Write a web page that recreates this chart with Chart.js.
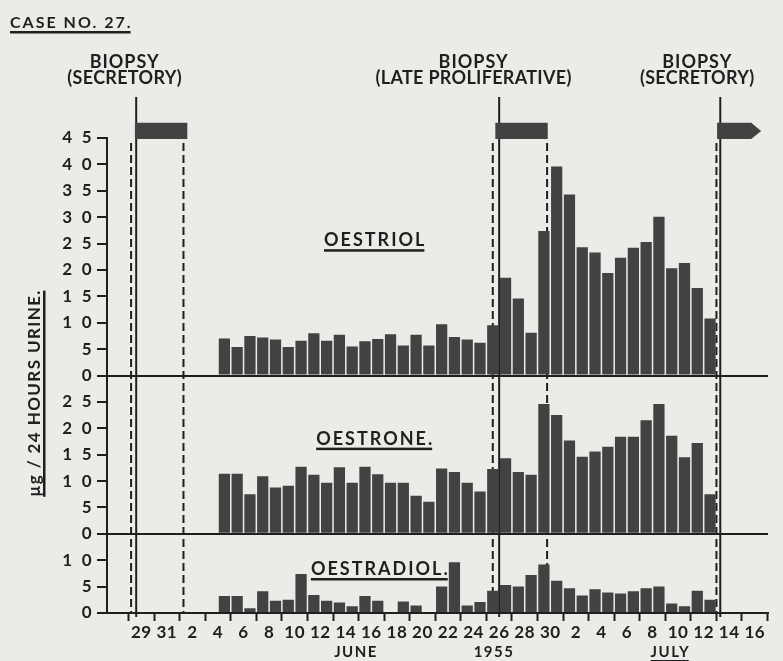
<!DOCTYPE html>
<html lang="en">

<head>
    <meta charset="UTF-8">
    <meta name="viewport" content="width=device-width, initial-scale=1.0">
    <script src="https://cdn.jsdelivr.net/npm/chart.js@4.4.1/dist/chart.umd.min.js"></script>
    <title>Case No. 27</title>
    <style>
        html, body { margin: 0; padding: 0; background: #ecebe8; }
        #contenitore { position: relative; width: 783px; height: 661px; }
    </style>
</head>

<body>
    <div id="contenitore"><canvas id="grafico1"></canvas></div>
</body>

<script>
    // days counted from 29 May 1955 (day 0); the bar of day d fills [d, d+1]
    var firstBarDay = 6;   // 4 June

    // µg / 24 hours urine, one value a day from 4 June to 12 July (null = not measured)
    var oestriol = [7.0, 5.4, 7.5, 7.2, 6.8, 5.4, 6.6, 8.0, 6.6, 7.7, 5.5, 6.5, 6.9, 7.8, 5.7, 7.7, 5.7, 9.7, 7.3, 6.8,
                    6.2, 9.5, 18.5, 14.6, 8.1, 27.4, 39.6, 34.3, 24.3, 23.3, 19.4, 22.3, 24.2, 25.3, 30.1, 20.3, 21.3, 16.6, 10.8];
    var oestrone = [11.4, 11.4, 7.5, 10.9, 8.8, 9.1, 12.7, 11.2, 9.7, 12.6, 9.7, 12.7, 11.3, 9.7, 9.7, 7.2, 6.1, 12.4, 11.7, 9.7,
                    8.0, 12.3, 14.3, 11.7, 11.2, 24.6, 22.5, 17.7, 14.6, 15.6, 16.5, 18.4, 18.4, 21.5, 24.6, 18.6, 14.5, 17.2, 7.5];
    var oestradiol = [3.2, 3.2, 0.9, 4.1, 2.3, 2.5, 7.4, 3.4, 2.3, 2.0, 1.3, 3.2, 2.3, null, 2.2, 1.4, null, 5.0, 9.6, 1.4,
                      2.1, 4.2, 5.3, 5.0, 7.2, 9.2, 6.1, 4.7, 3.3, 4.5, 3.9, 3.7, 4.1, 4.7, 5.0, 1.8, 1.3, 4.2, 2.5];

    // x axis ticks (day number -> day of month)
    var tickDays = [0, 2, 4, 6, 8, 10, 12, 14, 16, 18, 20, 22, 24, 26, 28, 30, 32, 34, 36, 38, 40, 42, 44, 46, 48];
    var tickLabels = ['29', '31', '2', '4', '6', '8', '10', '12', '14', '16', '18', '20', '22', '24', '26', '28', '30',
                      '2', '4', '6', '8', '10', '12', '14', '16'];
    var monthLabels = ['JUNE', '1955', 'JULY'];
    var monthDays = [16.8, 27.6, 41.4];

    // biopsies: solid line, label, dark band and dashed limits
    var biopsyDays = [-0.4, 28, 45.3];
    var biopsyLabelDays = [-1.3, 26.0, 43.5];
    var biopsyTypes = ['(SECRETORY)', '(LATE PROLIFERATIVE)', '(SECRETORY)'];
    var flowSpans = [[-0.5, 3.6], [27.7, 31.8], [45.05, 48.5]];
    var dashedDays = [-0.8, 3.3, 27.5, 31.75, 45.0];

    var ink = '#1f1f1f';
    var barColour = '#424242';
    var paper = '#ecebe8';
    var font = 'Lato, "DejaVu Sans", sans-serif';

    function punti(valori) {
        return valori.map(function(v, i) {
            return {x: firstBarDay + i + 0.5, y: v};
        });
    }

    function serie(label, valori, asse) {
        return {
            label: label,
            data: punti(valori),
            yAxisID: asse,
            backgroundColor: barColour,
            borderWidth: 0,
            barPercentage: 0.88,
            categoryPercentage: 1,
            grouped: false
        };
    }

    function asseY(max, peso, mostraMax) {
        return {
            type: 'linear',
            position: 'left',
            stack: 'pannelli',
            stackWeight: peso,
            min: 0,
            max: max,
            afterFit: function(s) { s.width = 107; },
            ticks: {
                stepSize: 5,
                autoSkip: false,
                padding: 5,
                color: ink,
                font: {family: font, size: 17, weight: 'bold'},
                callback: function(v) {
                    if (v === max && !mostraMax) return '';
                    return String(v).split('').join('\u2002');
                }
            },
            grid: {
                color: function(c) { return c.tick && c.tick.value === 0 ? ink : 'transparent'; },
                lineWidth: 2,
                tickColor: ink,
                tickWidth: 2,
                tickLength: 10
            },
            border: {color: ink, width: 2}
        };
    }

    function scritta(ctx, testo, x, y, size, spazio, sottolinea) {
        ctx.save();
        ctx.font = 'bold ' + size + 'px ' + font;
        ctx.letterSpacing = spazio + 'px';
        ctx.fillStyle = ink;
        ctx.textAlign = 'center';
        ctx.textBaseline = 'alphabetic';
        ctx.fillText(testo, x, y);
        if (sottolinea) {
            var w = ctx.measureText(testo).width - spazio;
            ctx.fillRect(x - w / 2 - spazio / 2, y + 3, w, 2.5);
        }
        ctx.restore();
    }

    var disegni = {
        id: 'disegni',
        beforeDraw: function(chart) {
            var ctx = chart.ctx;
            ctx.save();
            ctx.fillStyle = paper;
            ctx.fillRect(0, 0, chart.width, chart.height);
            ctx.restore();
            ctx.letterSpacing = '0.5px';
        },
        beforeDatasetsDraw: function(chart) {
            var ctx = chart.ctx, x = chart.scales.x, y3 = chart.scales.yOestriol;
            var bottom = chart.chartArea.bottom;
            var bandTop = y3.getPixelForValue(47.9), bandBottom = y3.getPixelForValue(44.8);
            var lineTop = chart.chartArea.top - 41;
            ctx.save();
            ctx.strokeStyle = ink;
            ctx.lineWidth = 2;
            // dashed limits of each band
            ctx.setLineDash([8, 4]);
            dashedDays.forEach(function(d) {
                var p = x.getPixelForValue(d);
                ctx.beginPath();
                ctx.moveTo(p, bandBottom + 4);
                ctx.lineTo(p, bottom);
                ctx.stroke();
            });
            ctx.setLineDash([]);
            // biopsy lines
            biopsyDays.forEach(function(d) {
                var p = x.getPixelForValue(d);
                ctx.beginPath();
                ctx.moveTo(p, lineTop);
                ctx.lineTo(p, bottom + 4);
                ctx.stroke();
            });
            // dark bands, the last one continues past the axis
            ctx.fillStyle = barColour;
            flowSpans.forEach(function(s, i) {
                var a = x.getPixelForValue(s[0]), b = x.getPixelForValue(s[1]);
                ctx.beginPath();
                if (i === flowSpans.length - 1) {
                    var punta = b - 10;
                    ctx.moveTo(a, bandTop);
                    ctx.lineTo(punta, bandTop);
                    ctx.lineTo(b, (bandTop + bandBottom) / 2);
                    ctx.lineTo(punta, bandBottom);
                    ctx.lineTo(a, bandBottom);
                } else {
                    ctx.rect(a, bandTop, b - a, bandBottom - bandTop);
                }
                ctx.closePath();
                ctx.fill();
            });
            ctx.restore();
        },
        afterDraw: function(chart) {
            var ctx = chart.ctx, x = chart.scales.x;

            ctx.save();
            ctx.font = 'bold 16px ' + font;
            ctx.letterSpacing = '2px';
            ctx.fillStyle = ink;
            ctx.fillText('CASE NO. 27.', 10, 28);
            ctx.fillRect(10, 31, ctx.measureText('CASE NO. 27.').width - 2, 2.5);
            ctx.restore();

            biopsyLabelDays.forEach(function(d, i) {
                var p = x.getPixelForValue(d);
                scritta(ctx, 'BIOPSY', p, 68, 18, 1, false);
                scritta(ctx, biopsyTypes[i], p, 84, 18, 0.3, false);
            });

            scritta(ctx, 'OESTRIOL', x.getPixelForValue(18.3), chart.scales.yOestriol.getPixelForValue(24.5), 18, 2, true);
            scritta(ctx, 'OESTRONE.', x.getPixelForValue(18.3), chart.scales.yOestrone.getPixelForValue(16.9), 18, 2, true);
            scritta(ctx, 'OESTRADIOL.', x.getPixelForValue(18.7), chart.scales.yOestradiol.getPixelForValue(7.2), 18, 2, true);

            monthLabels.forEach(function(m, i) {
                scritta(ctx, m, x.getPixelForValue(monthDays[i]), 657, 15, 1.5, m === 'JULY');
            });

            // y axis title
            ctx.save();
            ctx.translate(40, 393);
            ctx.rotate(-Math.PI / 2);
            scritta(ctx, 'µg / 24 HOURS URINE.', 0, 0, 17, 1.4, true);
            ctx.restore();
        }
    };

    var data = {
        datasets: [
            serie('Oestriol', oestriol, 'yOestriol'),
            serie('Oestrone', oestrone, 'yOestrone'),
            serie('Oestradiol', oestradiol, 'yOestradiol')
        ]
    };

    var options = {
        responsive: true,
        maintainAspectRatio: false,
        animation: false,
        layout: {padding: {left: 0, right: 15, top: 138, bottom: 0}},
        plugins: {
            legend: {display: false},
            tooltip: {enabled: false}
        },
        scales: {
            x: {
                type: 'linear',
                min: -1.65,
                max: 48,
                afterBuildTicks: function(s) {
                    s.ticks = tickDays.map(function(d) { return {value: d}; });
                },
                afterFit: function(s) { s.height = 48; },
                ticks: {
                    autoSkip: false,
                    maxRotation: 0,
                    padding: 1,
                    color: ink,
                    font: {family: font, size: 17, weight: 'bold'},
                    callback: function(v) { return tickLabels[tickDays.indexOf(v)]; }
                },
                grid: {drawOnChartArea: false, tickColor: ink, tickWidth: 2, tickLength: 8},
                border: {color: ink, width: 2}
            },
            // stacked panels, listed from the bottom one up
            yOestradiol: asseY(15, 15, false),
            yOestrone: asseY(30, 30, false),
            yOestriol: asseY(45, 45, true)
        }
    };

    var myChart = new Chart('grafico1', {
        type: 'bar',
        data: data,
        options: options,
        plugins: [disegni]
    });
</script>

</html>
